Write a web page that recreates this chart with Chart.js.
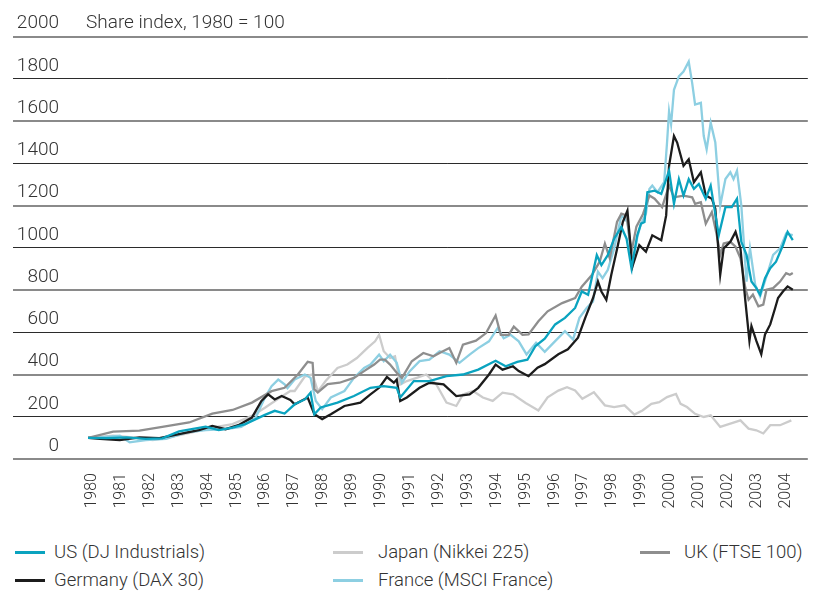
<!DOCTYPE html>
<html lang="en">
<head>
  <meta charset="UTF-8" />
  <title>Share index, 1980 = 100</title>
  <script src="https://cdn.jsdelivr.net/npm/chart.js"></script>
  <style>
    body { margin: 0; background: #fff; font-family: Roboto, "Liberation Sans", sans-serif; font-weight: 300; color: #333; }
    #wrap { position: relative; width: 815px; height: 592px; }
    #legend { position: absolute; left: 0; top: 538px; width: 815px; height: 56px; }
    .sw { position: absolute; width: 30px; height: 3px; }
    .lbl { position: absolute; font-size: 18.5px; line-height: 28px; height: 28px; white-space: nowrap; }
  </style>
</head>
<body>
<div id="wrap">
  <canvas id="chart" width="815" height="525"></canvas>
  <div id="legend"></div>
</div>
<script>
  const titleText = 'Share index, 1980 = 100';
  const yearTicks = [1980, 1981, 1982, 1983, 1984, 1985, 1986, 1987, 1988, 1989, 1990, 1991, 1992,
    1993, 1994, 1995, 1996, 1997, 1998, 1999, 2000, 2001, 2002, 2003, 2004];
  const seriesNames = ['US (DJ Industrials)', 'Germany (DAX 30)', 'Japan (Nikkei 225)', 'France (MSCI France)', 'UK (FTSE 100)'];

  // [year, index value] pairs
  const usData = [
    [1980.0,100],[1980.64,99],[1981.33,102],[1982.0,95],[1982.57,98],[1983.15,131],[1984.07,153],[1984.52,137],
    [1985.0,149],[1985.44,165],[1986.12,209],[1986.46,228],[1986.8,215],[1987.15,259],[1987.5,282],[1987.7,314],
    [1987.83,212],[1988.05,244],[1988.63,267],[1989.2,298],[1989.77,337],[1990.23,345],[1990.68,337],[1990.8,291],
    [1991.27,369],[1991.81,369],[1992.4,392],[1992.97,400],[1993.5,423],[1994.1,465],[1994.45,439],[1994.85,460],
    [1995.2,470],[1995.48,535],[1995.8,570],[1996.16,637],[1996.5,668],[1996.85,715],[1997.08,793],[1997.3,777],
    [1997.6,965],[1997.76,918],[1997.98,965],[1998.2,1043],[1998.45,1098],[1998.63,1043],[1998.8,903],[1999.0,1059],
    [1999.13,1114],[1999.25,1122],[1999.35,1263],[1999.6,1270],[1999.83,1255],[2000.1,1365],[2000.27,1208],
    [2000.44,1325],[2000.6,1247],[2000.78,1325],[2000.96,1279],[2001.13,1302],[2001.37,1232],[2001.54,1294],
    [2001.82,1060],[2002.05,1192],[2002.27,1192],[2002.45,1232],[2002.6,1028],[2002.78,966],[2002.95,840],
    [2003.12,809],[2003.25,778],[2003.42,856],[2003.6,903],[2003.8,934],[2004.04,1012],[2004.2,1075],[2004.38,1036]
  ];
  const germanyData = [
    [1980.0,100],[1980.41,95],[1981.1,90],[1981.78,102],[1982.47,99],[1983.15,118],[1983.84,137],[1984.3,157],
    [1984.76,141],[1985.2,160],[1985.67,196],[1986.0,275],[1986.23,306],[1986.46,282],[1986.7,298],[1987.0,280],
    [1987.15,259],[1987.6,291],[1987.83,212],[1988.1,189],[1988.4,212],[1988.87,251],[1989.42,267],[1989.77,306],
    [1990.07,337],[1990.34,388],[1990.58,361],[1990.68,376],[1990.8,275],[1991.03,291],[1991.47,337],[1991.81,361],
    [1992.3,353],[1992.74,298],[1993.2,306],[1993.5,337],[1993.87,400],[1994.1,447],[1994.34,423],[1994.7,439],
    [1994.9,416],[1995.24,392],[1995.55,432],[1995.8,449],[1996.27,496],[1996.6,519],[1996.95,574],[1997.2,668],
    [1997.47,762],[1997.64,840],[1997.76,793],[1997.93,754],[1998.1,871],[1998.33,1012],[1998.5,1122],[1998.66,1176],
    [1998.83,910],[1999.07,1012],[1999.3,981],[1999.52,1059],[1999.83,1036],[2000.0,1153],[2000.1,1388],[2000.27,1529],
    [2000.38,1498],[2000.6,1388],[2000.78,1419],[2000.96,1310],[2001.2,1357],[2001.37,1247],[2001.58,1232],
    [2001.7,1185],[2001.87,872],[2001.99,997],[2002.22,1028],[2002.4,1075],[2002.57,997],[2002.74,747],[2002.88,559],
    [2002.95,629],[2003.12,559],[2003.29,496],[2003.42,590],[2003.6,637],[2003.77,715],[2003.87,762],[2004.04,793],
    [2004.2,817],[2004.38,801]
  ];
  const japanData = [
    [1980.0,100],[1980.87,110],[1981.55,102],[1982.24,90],[1982.93,106],[1983.6,126],[1984.3,149],[1985.0,165],
    [1985.67,204],[1986.12,243],[1986.58,285],[1987.0,322],[1987.15,322],[1987.5,390],[1987.77,400],[1987.95,320],
    [1988.22,369],[1988.63,431],[1988.97,447],[1989.3,478],[1989.66,525],[1989.93,557],[1990.07,588],[1990.23,510],
    [1990.45,478],[1990.62,486],[1990.8,353],[1991.03,369],[1991.37,384],[1991.7,400],[1992.05,353],[1992.4,267],
    [1992.74,251],[1992.97,306],[1993.32,322],[1993.66,291],[1994.0,275],[1994.34,314],[1994.7,306],[1995.14,265],
    [1995.58,230],[1995.9,292],[1996.27,324],[1996.57,340],[1996.85,324],[1997.1,285],[1997.5,316],[1997.88,254],
    [1998.2,246],[1998.56,254],[1998.9,210],[1999.18,230],[1999.49,261],[1999.76,269],[2000.03,293],[2000.34,308],
    [2000.5,261],[2000.72,246],[2001.0,214],[2001.3,199],[2001.54,207],[2001.87,152],[2002.22,167],[2002.57,183],
    [2002.85,144],[2003.12,136],[2003.36,121],[2003.6,160],[2003.94,160],[2004.33,183]
  ];
  const franceData = [
    [1980.0,100],[1980.41,102],[1981.1,110],[1981.44,79],[1982.0,90],[1982.7,95],[1983.4,126],[1984.07,137],
    [1984.76,141],[1985.3,152],[1985.8,196],[1986.12,291],[1986.35,345],[1986.58,376],[1986.8,353],[1986.9,335],
    [1987.15,376],[1987.5,400],[1987.7,384],[1987.88,275],[1988.1,236],[1988.4,291],[1988.87,322],[1989.2,384],
    [1989.55,431],[1989.77,447],[1990.07,494],[1990.23,463],[1990.45,494],[1990.68,455],[1990.86,361],[1991.13,416],
    [1991.47,463],[1991.81,470],[1992.16,510],[1992.5,494],[1992.85,455],[1993.2,494],[1993.5,525],[1993.87,557],
    [1994.17,619],[1994.38,572],[1994.62,588],[1994.9,557],[1995.17,495],[1995.5,550],[1995.8,507],[1996.16,558],
    [1996.5,605],[1996.78,566],[1997.0,668],[1997.25,715],[1997.47,746],[1997.64,887],[1997.8,856],[1997.98,895],
    [1998.2,996],[1998.45,1153],[1998.66,1122],[1998.83,910],[1999.0,1050],[1999.13,1114],[1999.3,1161],
    [1999.42,1278],[1999.52,1294],[1999.7,1263],[1999.93,1310],[2000.03,1498],[2000.1,1646],[2000.17,1584],
    [2000.27,1748],[2000.44,1811],[2000.6,1834],[2000.78,1881],[2000.9,1779],[2001.0,1678],[2001.2,1686],
    [2001.3,1529],[2001.4,1466],[2001.54,1592],[2001.7,1498],[2001.87,1200],[2002.05,1325],[2002.22,1357],
    [2002.33,1325],[2002.45,1365],[2002.6,1200],[2002.78,840],[2002.9,997],[2003.08,825],[2003.25,770],
    [2003.47,864],[2003.7,966],[2003.94,997],[2004.15,1067],[2004.38,1060]
  ];
  const ukData = [
    [1980.0,100],[1980.87,130],[1981.78,134],[1982.57,152],[1983.5,173],[1984.3,215],[1985.0,232],[1985.67,267],
    [1986.35,321],[1986.8,337],[1987.26,400],[1987.6,460],[1987.77,455],[1987.83,330],[1987.95,315],[1988.29,354],
    [1988.7,361],[1989.2,384],[1989.55,416],[1989.9,447],[1990.1,470],[1990.27,470],[1990.45,447],[1990.68,408],
    [1990.86,384],[1991.2,463],[1991.6,502],[1991.95,486],[1992.16,502],[1992.5,525],[1992.74,455],[1992.97,541],
    [1993.42,560],[1993.77,596],[1994.1,679],[1994.28,588],[1994.55,588],[1994.73,627],[1995.03,588],[1995.24,590],
    [1995.58,652],[1995.9,699],[1996.4,738],[1996.85,762],[1997.08,816],[1997.43,871],[1997.7,934],[1997.88,1020],
    [1998.05,950],[1998.3,1122],[1998.45,1161],[1998.63,1153],[1998.8,981],[1998.97,1100],[1999.2,1160],
    [1999.42,1247],[1999.6,1232],[1999.86,1192],[2000.1,1294],[2000.27,1239],[2000.6,1247],[2000.9,1239],
    [2001.0,1208],[2001.2,1216],[2001.37,1114],[2001.58,1169],[2001.75,1060],[2001.87,966],[2001.99,1020],
    [2002.22,1028],[2002.4,1005],[2002.57,950],[2002.74,809],[2002.85,754],[2003.0,778],[2003.19,723],
    [2003.36,731],[2003.47,801],[2003.7,809],[2003.94,840],[2004.15,880],[2004.28,872],[2004.38,880]
  ];

  const colors = ['#0aa3bf', '#1c1c1c', '#cccccc', '#8dcfe2', '#8e8e8e'];
  const drawOrder = [1, 2, 5, 4, 3];   // lower number = drawn later (on top)
  const allData = [usData, germanyData, japanData, franceData, ukData];

  const titlePlugin = {
    id: 'titleText',
    afterDraw(chart) {
      const y = chart.scales.y.getPixelForValue(2000) - 13;
      const c = chart.ctx;
      c.save();
      c.font = '300 19px Roboto, "Liberation Sans", sans-serif';
      c.fillStyle = '#333';
      c.textBaseline = 'middle';
      c.textAlign = 'left';
      c.fillText(titleText, 86, y);
      c.restore();
    }
  };

  const isGray = (ctx) => ctx.tick && ctx.tick.value % 400 === 0;

  const chart = new Chart(document.getElementById('chart'), {
    type: 'line',
    data: {
      datasets: allData.map((d, i) => ({
        label: seriesNames[i],
        data: d.map(p => ({ x: p[0], y: p[1] })),
        borderColor: colors[i],
        backgroundColor: colors[i],
        borderWidth: 2.3,
        pointRadius: 0,
        tension: 0,
        order: drawOrder[i]
      }))
    },
    options: {
      responsive: false,
      animation: false,
      devicePixelRatio: 1,
      layout: { padding: { left: 13, right: 0, top: 36.5, bottom: 0 } },
      plugins: { legend: { display: false }, tooltip: { enabled: false } },
      scales: {
        x: {
          type: 'linear',
          min: 1980,
          max: 2004.9,
          afterFit: s => { s.height = 66; },
          grid: { display: false, drawTicks: false },
          border: { display: false },
          afterBuildTicks: s => { s.ticks = yearTicks.map(v => ({ value: v })); },
          ticks: {
            autoSkip: false,
            minRotation: 90,
            maxRotation: 90,
            padding: 14,
            labelOffset: 4,
            color: '#333',
            font: { family: 'Roboto, "Liberation Sans", sans-serif', size: 16, weight: '300' },
            callback: v => String(v)
          }
        },
        y: {
          min: 0,
          max: 2000,
          afterFit: s => { s.width = 75; },
          border: { display: false },
          grid: {
            color: ctx => isGray(ctx) ? '#8a8a8a' : '#2b2b2b',
            lineWidth: ctx => isGray(ctx) ? 2 : 1,
            drawTicks: true,
            tickLength: 75
          },
          ticks: {
            stepSize: 200,
            padding: -46,
            labelOffset: -13,
            color: '#333',
            font: { family: 'Roboto, "Liberation Sans", sans-serif', size: 19, weight: '300' },
            callback: v => String(v)
          }
        }
      }
    },
    plugins: [titlePlugin]
  });

  // legend: two rows, three columns, filled column by column
  const swatchX = [15, 333, 640];
  const textX = [54, 378, 684];
  const legend = document.getElementById('legend');
  chart.data.datasets.forEach((ds, i) => {
    const col = Math.floor(i / 2), row = i % 2;
    const sw = document.createElement('div');
    sw.className = 'sw';
    sw.style.left = swatchX[col] + 'px';
    sw.style.top = (row * 28 + 13) + 'px';
    sw.style.background = ds.borderColor;
    const t = document.createElement('div');
    t.className = 'lbl';
    t.style.left = textX[col] + 'px';
    t.style.top = row * 28 + 'px';
    t.textContent = ds.label;
    legend.appendChild(sw);
    legend.appendChild(t);
  });
</script>
</body>
</html>
